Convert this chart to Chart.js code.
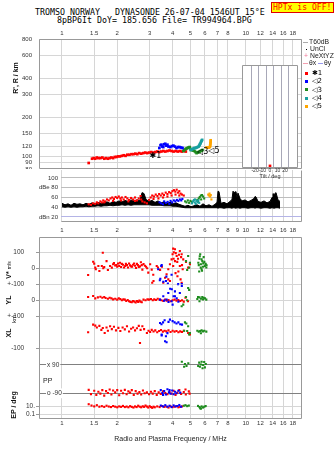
<!DOCTYPE html>
<html>
<head>
<meta charset="utf-8">
<title>Tromso Dynasonde ionogram</title>
<script src="https://cdn.jsdelivr.net/npm/chart.js@4.4.1/dist/chart.umd.min.js"></script>
<style>
  html, body { margin: 0; padding: 0; background: #fff; }
  body { position: relative; width: 335px; height: 451px; overflow: hidden;
         font-family: "Liberation Sans", Arial, sans-serif; color: #222; }
  canvas { position: absolute; }
  .mono { position: absolute; font-family: "DejaVu Sans Mono", monospace; font-size: 8.3px;
          line-height: 1; white-space: pre; color: #000; }
  .hptx { position: absolute; left: 271px; top: 2px; width: 60px; height: 9px; padding-left: 1px;
          border: 1px solid #e00000; background: #ffff00; color: #ff0000;
          font-family: "DejaVu Sans Mono", monospace; font-size: 8.1px; line-height: 9px; white-space: pre; }
  .rot { position: absolute; transform: translate(-50%, -50%) rotate(-90deg); white-space: nowrap;
         font-weight: bold; font-size: 7px; line-height: 1; color: #111; }
  .rot .small { font-size: 5px; font-weight: normal; }
  .rot.thin { font-weight: normal; font-size: 6px; }
  .lab { position: absolute; white-space: nowrap; font-size: 7px; line-height: 1; color: #222; }
  .key { position: absolute; font-size: 6.8px; line-height: 1; white-space: nowrap; color: #222; }
  .bar { position: absolute; height: 1px; }
  .sw { position: absolute; width: 3px; height: 3px; }
</style>
</head>
<body>
<div class="mono" style="left:35px;top:7.5px">TROMSO NORWAY   DYNASONDE 26-07-04 1546UT 15°E</div>
<div class="mono" style="left:57px;top:15.5px">8pBP6It DoY= 185.656 File= TR994964.BPG</div>
<div class="hptx">HPTx is OFF!</div>

<canvas id="rangeChart" width="335" height="148" style="left:0;top:21px"></canvas>
<canvas id="powerChart" width="335" height="68" style="left:0;top:168px"></canvas>
<canvas id="paramChart" width="335" height="214" style="left:0;top:237px"></canvas>
<canvas id="tiltChart" width="76" height="124" style="left:232px;top:60px"></canvas>

<div class="rot" style="left:14.5px;top:78px">R', R / km</div>
<div class="rot" style="left:8px;top:270px">V* <span class="small">m/s</span></div>
<div class="rot" style="left:8px;top:300px">YL</div>
<div class="rot thin" style="left:14px;top:319px">km</div>
<div class="rot" style="left:8px;top:333px">XL</div>
<div class="lab" style="left:43px;top:376.5px">PP</div>
<div class="rot" style="left:13px;top:405px">EP / deg</div>

<!-- legend, right of the range panel -->
<div class="bar" style="left:303px;top:42px;width:5px;background:#aaa"></div>
<div class="key" style="left:309px;top:38.5px">T60dB</div>
<div class="bar" style="left:306px;top:49px;width:1px;background:#000"></div>
<div class="key" style="left:310px;top:45.5px">UnCl</div>
<div class="key" style="left:304px;top:52.5px;color:#f07898">+</div>
<div class="key" style="left:310px;top:52.5px">NeXtYZ</div>
<div class="bar" style="left:303px;top:63px;width:5px;background:#f4a0b0"></div>
<div class="key" style="left:309px;top:59.5px">θx</div>
<div class="bar" style="left:318px;top:63px;width:5px;background:#9898f0"></div>
<div class="key" style="left:324px;top:59.5px">θy</div>

<script>
// ---- axis ticks ----
const freqTicksTop = [1, 1.5, 2, 3, 4, 5, 6, 7, 8, 10, 12, 14, 16, 18];
const freqTicksMid = [1, 1.5, 2, 3, 4, 5, 6, 7, 8, 9, 10, 12, 14, 16, 18];
const rangeTicks = [80, 90, 100, 120, 150, 200, 300, 400, 600, 800];
const dbTicks = [20, 40, 60, 80, 100];
const dbLabels = ['dBn 20', '40', '60', 'dBe 80', '100'];
const tiltTicks = [-20, -10, 0, 10, 20];
const vTicks = [100, 0];
const vLabels = ['100', '0'];
const ylTicks = [100, 0];
const ylLabels = ['+-100', '0'];
const xlTicks = [100, 0, -100];
const xlLabels = ['+-100', '0', '-100'];
const ppTicks = [90, -90];
const ppLabels = ['x 90', 'o -90'];
const epTicks = [10, 1, 0.1];
const epLabels = ['10.', '', '0.1'];

const echoNames = ['✱1', '◁2', '◁3', '◁4', '◁5'];

// ---- virtual range R' (MHz, km), echoes 1..5 ----
const rangeE1 = [[1.40,89],[1.46,96],[1.49,97],[1.52,96],[1.55,98],[1.58,97],[1.62,97],[1.66,98],[1.70,96],[1.74,97],
  [1.78,96],[1.82,97],[1.86,98],[1.90,97],[1.94,99],[1.98,99],[2.02,100],[2.07,100],[2.12,101],[2.17,102],[2.22,101],
  [2.27,103],[2.33,103],[2.39,104],[2.45,104],[2.51,105],[2.57,104],[2.63,106],[2.70,105],[2.77,106],[2.84,107],
  [2.91,106],[2.98,107],[3.06,108],[3.14,107],[3.22,108],[3.30,109],[3.38,108],[3.47,109],[3.56,110],[3.65,109],
  [3.75,110],[3.85,111],[3.95,110],[4.05,109],[4.16,110],[4.27,109],[4.38,110],[4.49,109],[4.60,110],[4.72,109]];
const rangeE2 = [[3.39,116],[3.44,122],[3.48,123],[3.52,119],[3.56,118],[3.60,124],[3.65,125],[3.70,121],[3.75,123],
  [3.80,119],[3.89,118],[3.96,120],[4.04,121],[4.12,119],[4.20,116],[4.28,118],[4.36,118],[4.45,117],[4.53,116]];
const rangeE3 = [[4.58,110],[4.64,112],[4.70,114],[4.76,115],[4.82,116],[4.88,117],[4.95,118],[5.01,114],[5.07,112],
  [5.16,111],[5.26,110],[5.33,108],[5.40,106],[5.47,107],[5.54,108],[5.61,109],[5.68,110],[5.75,111],[5.82,112]];
const rangeE4 = [[5.01,112],[5.07,113],[5.13,114],[5.20,115],[5.26,116],[5.33,116],[5.40,117],[5.47,118],[5.54,119],
  [5.58,121],[5.61,123],[5.65,125],[5.68,127],[5.72,130],[5.75,132],[5.79,134]];
const rangeE5 = [[6.12,117],[6.20,117],[6.28,117],[6.38,118],[6.40,121],[6.42,124],[6.42,127],[6.44,130],[6.44,133]];

// echo tags written next to the traces
const tagText = ['✱1', '◁3', '◁5'];
const tagFreq = [3.0, 5.43, 6.25];
const tagRange = [100, 109, 111];

// ---- amplitude panel (MHz, dB) ----
const noiseFreq = [1.003,1.041,1.081,1.122,1.165,1.209,1.256,1.304,1.354,1.405,1.459,1.515,1.573,1.633,1.696,1.761,
  1.828,1.898,1.971,2.046,2.125,2.206,2.290,2.378,2.469,2.563,2.661,2.729,2.798,2.869,2.979,3.093,3.211,3.334,3.461,
  3.593,3.731,3.873,4.021,4.175,4.335,4.500,4.672,4.851,5.036,5.229,5.429,5.636,5.852,6.076,6.310,6.551,6.802,6.975,
  7.062,7.151,7.332,7.612,7.903,8.206,8.414,8.520,8.628,8.846,8.957,9.070,9.300,9.535,9.901,10.28,10.67,11.08,11.22,
  11.36,11.65,12.09,12.56,13.04,13.54,13.88,14.05,14.23,14.59,14.96,15.34];
const noiseTop = [48,45,47,44,48,46,47,45,48,46,49,47,50,48,49,51,48,52,50,53,51,54,52,55,53,55,54,
  70,68,56,
  52,54,50,53,49,51,48,50,47,49,46,44,42,44,41,43,45,42,47,43,45,42,46,
  50,73,72,48,50,47,52,56,73,70,72,60,69,58,53,55,51,54,58,62,61,52,50,53,49,52,60,68,66,70,55,52];
const noiseBase = [41,40,41,40,41,40,41,41,42,41,42,42,43,42,43,43,44,43,44,44,45,44,45,44,45,45,45,
  45,45,45,
  45,44,44,44,44,43,43,43,42,42,41,40,39,39,39,39,39,39,39,39,39,39,39,
  39,38,39,39,38,39,39,38,39,39,38,39,39,38,39,39,38,39,39,38,39,39,38,39,39,38,39,39,38,39,39,38];

const dbE1 = [[1.40,46],[1.44,45],[1.48,48],[1.52,47],[1.55,50],[1.58,48],[1.62,52],[1.65,50],[1.68,54],[1.72,52],
  [1.76,56],[1.80,54],[1.84,58],[1.88,60],[1.92,57],[1.96,61],[2.00,59],[2.04,62],[2.08,58],[2.12,60],[2.17,56],
  [2.22,61],[2.27,58],[2.32,55],[2.38,59],[2.44,56],[2.50,60],[2.56,54],[2.62,58],[2.68,63],[2.74,52],[2.82,50],
  [2.90,48],[2.98,55],[3.04,60],[3.10,64],[3.17,62],[3.24,66],[3.31,63],[3.38,67],[3.45,64],[3.52,68],[3.59,65],
  [3.67,70],[3.75,67],[3.83,71],[3.91,69],[3.99,73],[4.07,75],[4.14,72],[4.21,76],[4.28,70],[4.35,73],[4.42,68],
  [4.50,66],[4.60,64],[1.70,50],[1.90,53],[2.10,54],[2.30,52],[2.50,53],[2.70,56],[3.15,57],[3.35,58],[3.55,60],
  [3.75,62],[3.95,64],[4.15,66],[4.35,64]];
const dbE2 = [[3.40,50],[3.47,48],[3.55,46],[3.60,52],[3.68,49],[3.76,51],[3.84,47],[3.90,53],[3.98,50],[4.06,54],
  [4.14,52],[4.22,55],[4.30,53],[4.38,56],[4.46,54],[4.52,57]];
const dbE3 = [[4.68,52],[4.76,50],[4.84,54],[4.92,49],[5.00,53],[5.10,51],[5.45,55],[5.55,58],[5.62,61],[5.70,64],
  [5.78,65],[5.86,62],[5.94,58],[5.72,56],[5.50,52]];
const dbE4 = [[5.10,48],[5.16,52],[5.22,55],[5.28,50],[5.34,47],[5.40,53],[5.46,50],[5.52,54],[5.58,49],[5.30,56]];
const dbE5 = [[6.25,66],[6.30,64],[6.35,68],[6.40,62],[6.45,65],[6.50,56]];

// ---- tilt histogram (deg, count) ----
const tiltDeg = [0];
const tiltCount = [3];

// ---- V* (m/s), YL, XL (km), PP, EP (deg) for echoes 1..3 ----
const vE1 = [[1.39,-42],[1.48,41],[1.50,29],[1.52,4],[1.53,-6],[1.58,14],[1.60,-17],[1.65,14],[1.67,97],[1.68,0],
  [1.70,8],[1.75,45],[1.78,-11],[1.83,14],[1.87,4],[1.90,25],[1.92,32],[1.95,18],[1.98,20],[2.00,10],[2.02,30],
  [2.05,15],[2.07,35],[2.10,8],[2.12,28],[2.15,22],[2.18,5],[2.21,14],[2.23,28],[2.26,20],[2.29,5],[2.32,30],
  [2.35,18],[2.38,12],[2.41,10],[2.44,22],[2.47,30],[2.50,16],[2.53,2],[2.56,28],[2.59,20],[2.62,8],[2.66,12],
  [2.69,38],[2.72,20],[2.74,-8],[2.78,26],[2.83,16],[2.87,10],[2.91,0],[2.95,-27],[3.02,25],[3.08,-8],[3.10,-90],
  [3.10,-135],[3.14,-40],[3.15,-79],[3.21,-110],[3.28,14],[3.33,5],[3.42,-10],[3.50,10],[3.56,-90],[3.64,-59],
  [3.71,-37],[3.79,-6],[3.79,-69],[3.87,25],[3.87,-79],[3.95,56],[4.00,88],[4.03,123],[4.03,14],[4.05,60],
  [4.06,100],[4.12,119],[4.12,45],[4.15,-30],[4.16,95],[4.21,77],[4.24,40],[4.25,-50],[4.28,60],[4.30,-20],
  [4.33,85],[4.38,108],[4.38,14],[4.42,-69],[4.45,70],[4.48,88],[4.48,-90],[4.50,20],[4.54,-6],[4.57,56],
  [4.73,40],[4.86,4],[4.97,25]];
const vE2 = [[3.49,21],[3.47,14],[3.34,-6],[3.41,-75],[3.43,-65],[3.56,-84],[3.68,-79],[3.70,-52],[3.71,-121],
  [3.77,-95],[3.95,-40],[4.29,-98],[4.49,-98]];
const vE3 = [[4.73,45],[4.86,77],[4.92,4],[4.97,35],[4.80,-11],[4.83,-121],[5.65,88],[5.75,56],[5.52,35],[5.87,31],
  [5.99,14],[5.69,4],[6.12,19],[5.75,-6],[5.60,60],[5.80,45],[5.95,40],[5.70,25],[6.05,28],[5.85,10],[5.55,20],
  [6.10,5],[5.78,-15],[5.62,75],[5.90,70],[5.58,-20]];

const ylE1 = [[1.39,21],[1.48,27],[1.52,12],[1.57,18],[1.62,22],[1.66,16],[1.70,21],[1.73,14],[1.78,10],[1.82,16],
  [1.86,12],[1.90,6],[1.95,10],[2.00,4],[2.04,12],[2.08,8],[2.12,0],[2.16,6],[2.20,4],[2.24,-4],[2.28,2],[2.32,-6],
  [2.36,-10],[2.40,-12],[2.44,-4],[2.48,-8],[2.52,-14],[2.56,-4],[2.60,-10],[2.64,-2],[2.68,-8],[2.72,-12],[2.78,4],
  [2.85,0],[2.92,6],[2.98,4],[3.05,8],[3.12,0],[3.18,6],[3.25,2],[3.32,10],[3.40,4],[3.48,0],[3.56,-4],[3.64,4],
  [3.72,-2],[3.80,2],[3.90,-6],[4.00,0],[4.10,4],[4.20,-2],[4.30,2],[4.40,-4],[4.50,0],[4.60,-8],[4.70,16],[4.85,-6]];
const ylE2 = [[3.42,4],[3.56,25],[3.60,-2],[3.71,4],[3.79,46],[3.80,-10],[3.88,72],[3.95,-6],[3.96,69],[4.00,-27],
  [4.05,25],[4.12,56],[4.12,25],[4.21,12],[4.28,100],[4.30,-8],[4.38,46],[4.49,90]];
const ylE3 = [[4.48,-37],[4.57,-27],[4.73,21],[4.86,77],[4.92,65],[4.80,0],[5.45,8],[5.50,21],[5.60,18],[5.60,-6],
  [5.70,10],[5.80,20],[5.85,6],[5.90,16],[6.00,12],[6.10,4]];

const xlE1 = [[1.39,0],[1.48,48],[1.52,42],[1.55,30],[1.60,40],[1.64,15],[1.67,27],[1.71,-4],[1.75,30],[1.78,10],
  [1.83,38],[1.87,20],[1.92,35],[1.97,12],[2.03,28],[2.08,8],[2.14,30],[2.20,18],[2.26,38],[2.32,5],[2.38,22],
  [2.44,30],[2.50,12],[2.56,25],[2.62,40],[2.66,-67],[2.68,15],[2.74,38],[2.80,20],[2.90,-4],[2.96,10],[3.02,2],
  [3.08,15],[3.15,5],[3.22,12],[3.30,0],[3.38,8],[3.46,14],[3.54,4],[3.62,10],[3.70,6],[3.80,12],[3.90,2],[4.00,10],
  [4.10,4],[4.20,8],[4.30,0],[4.40,6],[4.50,2],[4.60,10],[4.86,-4],[4.97,-14]];
const xlE2 = [[3.42,58],[3.48,50],[3.49,-19],[3.49,-14],[3.55,62],[3.62,75],[3.64,-56],[3.68,-25],[3.71,-62],
  [3.75,-5],[3.80,65],[3.87,79],[4.00,70],[4.10,62],[4.20,55],[4.30,62],[4.40,50],[4.50,48]];
const xlE3 = [[4.62,10],[4.67,62],[4.75,55],[4.80,8],[4.86,38],[4.92,-14],[4.97,-4],[5.45,10],[5.55,4],[5.65,8],
  [5.70,-6],[5.75,12],[5.85,6],[5.95,10],[6.10,4]];

const ppE1 = [[1.40,-68],[1.44,-95],[1.50,-74],[1.54,-100],[1.58,-80],[1.62,-92],[1.66,-70],[1.70,-105],[1.74,-76],
  [1.78,-88],[1.82,-66],[1.86,-98],[1.90,-72],[1.95,-84],[2.00,-70],[2.05,-102],[2.10,-74],[2.15,-90],[2.20,-68],
  [2.25,-96],[2.30,-78],[2.35,-86],[2.40,-70],[2.46,-100],[2.52,-76],[2.58,-92],[2.64,-82],[2.70,-98],[2.76,-72],
  [2.82,-90],[2.90,-84],[2.98,-96],[3.05,-80],[3.12,-92],[3.20,-76],[3.28,-100],[3.36,-84],[3.45,-94],[3.55,-78],
  [3.65,-88],[3.75,-96],[3.85,-80],[3.95,-92],[4.05,-74],[4.15,-100],[4.25,-86],[4.35,-70],[4.45,-94],[4.60,-82],
  [4.70,-66],[4.72,-98],[4.90,-78],[4.95,-92]];
const ppE2 = [[3.45,-70],[3.52,-88],[3.55,-100],[3.60,-76],[3.68,-98],[3.75,-64],[3.82,-84],[3.85,-70],[3.90,-92],
  [3.98,-72],[4.05,-96],[4.12,-80],[4.20,-90],[4.30,-74],[4.40,-86]];
const ppE3 = [[4.49,111],[4.67,96],[4.76,84],[4.62,79],[4.87,101],[5.58,105],[5.75,111],[5.86,90],[5.63,79],
  [5.99,75],[5.82,69],[5.51,84],[6.06,96],[5.94,109],[5.70,93]];

const epE1 = [[1.40,45],[1.45,20],[1.50,12],[1.55,25],[1.60,10],[1.65,14],[1.70,9],[1.75,18],[1.80,11],[1.85,8],
  [1.90,15],[1.95,10],[2.00,7],[2.05,12],[2.10,9],[2.15,16],[2.20,8],[2.25,11],[2.30,7],[2.35,14],[2.40,9],[2.45,6],
  [2.50,12],[2.55,8],[2.60,18],[2.65,10],[2.70,7],[2.75,13],[2.80,9],[2.85,20],[2.90,11],[2.95,6],[3.00,14],[3.05,8],
  [3.10,5],[3.15,10],[3.20,7],[3.30,12],[3.40,8],[3.50,15],[3.60,9],[3.70,11],[3.80,6],[3.90,13],[4.00,8],[4.10,10],
  [4.20,14],[4.30,7],[4.40,9],[4.50,12]];
const epE2 = [[3.45,20],[3.55,12],[3.65,25],[3.75,10],[3.85,18],[3.95,8],[4.05,22],[4.15,12],[4.25,15],[4.35,28],[4.45,10]];
const epE3 = [[4.60,18],[4.70,25],[4.80,14],[4.90,20],[5.50,16],[5.60,8],[5.65,4],[5.70,3],[5.75,12],[5.85,6],
  [5.95,10],[6.05,15]];

// ---- styling ----
Chart.defaults.font.family = '"Liberation Sans", Arial, sans-serif';
Chart.defaults.font.size = 6;
Chart.defaults.color = '#333';

const GRID = '#d6d6d6';
const FRAME = '#999';
const ECHO_COLORS = ['#ff0000', '#0000ff', '#1e8c1e', '#18a0a0', '#ffa500'];
const ECHO_ORDER = [3, 1, 2, 1, 1];
const F_MIN = 0.7516;   // frequency at the left frame
const F_MAX = 20.2;     // frequency at the right frame

const xy = pairs => pairs.map(([x, y]) => ({ x, y }));
const zip = (a, b) => a.map((v, i) => [v, b[i]]);

// fixed axis sizes, and no extra room for labels hanging over the ends
const fixWidth = w => s => { s.width = w; s.paddingTop = 0; s.paddingBottom = 0; };
const fixHeight = h => s => { s.height = h; s.paddingLeft = 0; s.paddingRight = 0; };

function dots(pairs, i, axis, r) {
  return {
    data: xy(pairs), yAxisID: axis, order: ECHO_ORDER[i], showLine: false,
    pointStyle: 'rect', pointRadius: r, pointBorderWidth: 0,
    pointBackgroundColor: ECHO_COLORS[i], borderColor: ECHO_COLORS[i]
  };
}

function baseOptions(padding, frame) {
  return {
    responsive: false, animation: false, devicePixelRatio: 1, events: [],
    layout: { padding, autoPadding: false },
    plugins: { legend: { display: false }, tooltip: { enabled: false }, frame }
  };
}

function freqAxis(position, ticks, min, height, pad, extra) {
  return Object.assign({
    type: 'logarithmic', position, min, max: F_MAX,
    afterBuildTicks: s => { s.ticks = ticks.map(value => ({ value })); },
    afterFit: fixHeight(height),
    ticks: { autoSkip: false, maxRotation: 0, padding: pad, callback: v => String(v) },
    grid: { color: GRID, drawTicks: false },
    border: { display: false }
  }, extra);
}

// frame round the plot area, optional background
const framePlugin = {
  id: 'frame',
  beforeDraw(chart, args, opts) {
    if (!opts.fill) return;
    const { ctx, chartArea: a } = chart;
    ctx.save();
    ctx.fillStyle = opts.fill;
    ctx.fillRect(a.left, a.top, a.width, a.height);
    ctx.restore();
  },
  afterDraw(chart, args, opts) {
    const { ctx, chartArea: a } = chart;
    const sides = opts.sides || 'tlrb';
    const l = Math.round(a.left) + 0.5, r = Math.round(a.right) - 0.5;
    const t = Math.round(a.top) + 0.5, b = Math.round(a.bottom) - 0.5;
    ctx.save();
    ctx.strokeStyle = opts.color || FRAME;
    ctx.lineWidth = 1;
    ctx.beginPath();
    if (sides.includes('t')) { ctx.moveTo(l, t); ctx.lineTo(r, t); }
    if (sides.includes('b')) { ctx.moveTo(l, b); ctx.lineTo(r, b); }
    if (sides.includes('l')) { ctx.moveTo(l, t); ctx.lineTo(l, b); }
    if (sides.includes('r')) { ctx.moveTo(r, t); ctx.lineTo(r, b); }
    ctx.stroke();
    ctx.restore();
  }
};

const echoTagPlugin = {
  id: 'echoTags',
  afterDatasetsDraw(chart) {
    const { ctx, scales: { x, y } } = chart;
    ctx.save();
    ctx.font = '8px "DejaVu Sans"';
    ctx.fillStyle = '#000';
    ctx.textBaseline = 'middle';
    tagText.forEach((t, i) => ctx.fillText(t, x.getPixelForValue(tagFreq[i]), y.getPixelForValue(tagRange[i])));
    ctx.restore();
  }
};

// ---- range panel ----
new Chart(document.getElementById('rangeChart'), {
  type: 'line',
  data: { datasets: [rangeE1, rangeE2, rangeE3, rangeE4, rangeE5].map((e, i) => dots(e, i, 'y', 1.9)) },
  options: Object.assign(baseOptions({ left: 0, right: 33, top: 0, bottom: 0 }, { color: FRAME }), {
    scales: {
      x: freqAxis('top', freqTicksTop, F_MIN, 18, 2),
      y: {
        type: 'logarithmic', min: 80, max: 800,
        afterBuildTicks: s => { s.ticks = rangeTicks.map(value => ({ value })); },
        afterFit: fixWidth(39),
        ticks: { padding: 7, callback: v => String(v) },
        grid: { color: GRID, drawTicks: false },
        border: { display: false }
      }
    }
  }),
  plugins: [framePlugin, echoTagPlugin]
});

// ---- amplitude panel ----
const powerSets = [dbE1, dbE2, dbE3, dbE4, dbE5].map((e, i) => dots(e, i, 'y', 1.5));
powerSets.push({
  data: xy(zip(noiseFreq, noiseTop)), yAxisID: 'y', order: 10, fill: '+1',
  borderColor: '#000', backgroundColor: '#000', borderWidth: 1, pointRadius: 0
});
powerSets.push({
  data: xy(zip(noiseFreq, noiseBase)), yAxisID: 'y', order: 11, fill: false,
  borderColor: '#000', borderWidth: 1, pointRadius: 0
});

new Chart(document.getElementById('powerChart'), {
  type: 'line',
  data: { datasets: powerSets },
  options: Object.assign(baseOptions({ left: 0, right: 33, top: 2, bottom: 0 }, { color: FRAME, sides: 'rb' }), {
    scales: {
      x: freqAxis('bottom', freqTicksMid, 0.990, 14, 5),
      y: {
        type: 'linear', min: 9.7, max: 116.4,
        afterBuildTicks: s => { s.ticks = dbTicks.map(value => ({ value })); },
        afterFit: fixWidth(61),
        ticks: { padding: 3, callback: v => dbLabels[dbTicks.indexOf(v)] },
        grid: { color: c => (c.tick && c.tick.value === 20 ? '#b4b4e6' : '#bdbdbd'), drawTicks: false },
        border: { display: false }
      }
    }
  }),
  plugins: [framePlugin]
});

// ---- V*, YL, XL, PP, EP panel: one stacked y axis per row ----
function rowAxis(weight, stackWeight, min, max, ticks, labels, shift, extra) {
  return Object.assign({
    type: 'linear', position: 'left', stack: 'rows', stackWeight, weight, min, max,
    afterBuildTicks: s => { s.ticks = ticks.map(value => ({ value })); },
    afterFit: fixWidth(39),
    ticks: {
      font: { size: 6.5 }, padding: 1,
      callback: v => {
        const t = labels[ticks.indexOf(v)];
        return shift && t !== '0' ? t + '      ' : t;
      }
    },
    grid: { color: GRID, tickLength: 3, tickColor: '#999' },
    border: { display: false }
  }, extra);
}

const paramSets = [];
[['yv', [vE1, vE2, vE3]], ['yyl', [ylE1, ylE2, ylE3]], ['yxl', [xlE1, xlE2, xlE3]],
 ['ypp', [ppE1, ppE2, ppE3]], ['yep', [epE1, epE2, epE3]]].forEach(([axis, sets]) => {
  sets.forEach((e, i) => paramSets.push(dots(e, i, axis, 1.5)));
});

new Chart(document.getElementById('paramChart'), {
  type: 'line',
  data: { datasets: paramSets },
  options: Object.assign(baseOptions({ left: 0, right: 33, top: 0, bottom: 0 }, { color: FRAME }), {
    scales: {
      x: freqAxis('bottom', freqTicksTop, F_MIN, 32, 1, {
        title: { display: true, text: 'Radio and Plasma Frequency / MHz', color: '#222',
                 font: { size: 7 }, padding: { top: 0, bottom: 7.8 } }
      }),
      yv: rowAxis(5, 47.3, -100, 195.6, vTicks, vLabels, true),
      yyl: rowAxis(4, 32, -100, 100, ylTicks, ylLabels, true),
      yxl: rowAxis(3, 32, -100, 100, xlTicks, xlLabels, true),
      ypp: rowAxis(2, 51.7, -132.6, 196.2, ppTicks, ppLabels, false, {
        ticks: {
          font: { size: 6.5 }, mirror: true, padding: 8, showLabelBackdrop: true,
          backdropColor: '#fff', backdropPadding: 1,
          callback: v => ppLabels[ppTicks.indexOf(v)]
        },
        grid: { color: '#808080', drawTicks: false }
      }),
      yep: rowAxis(1, 19, 0.0058, 579, epTicks, epLabels, false, { type: 'logarithmic' })
    }
  }),
  plugins: [framePlugin]
});

// ---- tilt inset ----
new Chart(document.getElementById('tiltChart'), {
  type: 'bar',
  data: { datasets: [{ data: xy(zip(tiltDeg, tiltCount)), backgroundColor: '#ff0000', barThickness: 2 }] },
  options: Object.assign(baseOptions({ left: 10, right: 10, top: 5, bottom: 0 }, { color: FRAME, fill: '#fff' }), {
    scales: {
      x: {
        type: 'linear', min: -30, max: 30,
        afterBuildTicks: s => { s.ticks = tiltTicks.map(value => ({ value })); },
        afterFit: fixHeight(16),
        ticks: { font: { size: 5 }, padding: 0, autoSkip: false, maxRotation: 0 },
        grid: { color: '#a8a8b8', drawTicks: false },
        border: { display: false },
        title: { display: true, text: 'Tilt / deg', font: { size: 5.5 }, color: '#333', padding: { top: 0, bottom: 4 } }
      },
      y: { display: false, min: 0, max: 100 }
    }
  }),
  plugins: [framePlugin]
});

// ---- echo keys in the legend ----
echoNames.forEach((name, i) => {
  const top = 71 + i * 8.35;
  const sw = document.createElement('div');
  sw.className = 'sw';
  sw.style.cssText = `left:305px;top:${top + 0.5}px;background:${ECHO_COLORS[i]}`;
  document.body.appendChild(sw);
  const key = document.createElement('div');
  key.className = 'key';
  key.style.cssText = `left:312px;top:${top - 1}px;font-family:"DejaVu Sans";font-size:7px;color:#000`;
  key.textContent = name;
  document.body.appendChild(key);
});
</script>
</body>
</html>
